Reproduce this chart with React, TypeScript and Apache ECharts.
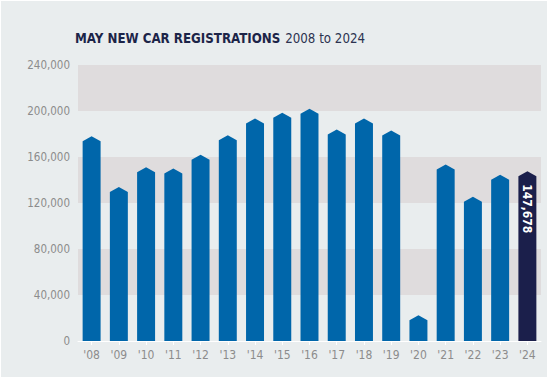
import React, { useEffect, useRef } from "react";
import * as echarts from "echarts";

const categories = ["'08", "'09", "'10", "'11", "'12", "'13", "'14", "'15", "'16", "'17", "'18", "'19", "'20", "'21", "'22", "'23", "'24"];
const registrations = [178000, 134000, 151000, 150000, 162000, 179000, 193500, 198500, 202000, 184000, 193500, 183000, 22500, 153500, 125500, 144500, 147678];
const yTicks = [0, 40000, 80000, 120000, 160000, 200000, 240000];
const titleBold = "MAY NEW CAR REGISTRATIONS";
const titleRest = "2008 to 2024";

const FONT = "'DejaVu Sans Condensed', 'DejaVu Sans', sans-serif";

export default function App() {
  const ref = useRef<HTMLDivElement>(null);
  useEffect(() => {
    if (!ref.current) return;
    const chart = echarts.init(ref.current, null, { renderer: "svg" });
    const last = registrations.length - 1;
    chart.setOption({
      animation: false,
      backgroundColor: "#ffffff",
      graphic: [
        { type: "rect", z: -10, silent: true, shape: { x: 1, y: 1, width: 546, height: 376 }, style: { fill: "#e9edee" } },
      ],
      title: {
        left: 70,
        top: 24,
        text: `{b|${titleBold}} {r|${titleRest}}`,
        textStyle: {
          rich: {
            b: { fontFamily: FONT, fontWeight: "bold", fontSize: 13.2, color: "#1c2448" },
            r: { fontFamily: FONT, fontWeight: "normal", fontSize: 13.2, color: "#2c3350" },
          },
        },
      },
      grid: { left: 78, right: 9, top: 65, bottom: 37 },
      xAxis: {
        type: "category",
        data: categories,
        axisLine: { show: true, lineStyle: { color: "#ffffff", width: 1 } },
        axisTick: { show: true, alignWithLabel: true, length: 4, lineStyle: { color: "#ffffff" } },
        axisLabel: { color: "#8c8c8c", fontFamily: FONT, fontSize: 12, margin: 8 },
      },
      yAxis: {
        type: "value",
        min: yTicks[0],
        max: yTicks[yTicks.length - 1],
        interval: 40000,
        axisLine: { show: false },
        axisTick: { show: false },
        splitLine: { show: false },
        splitArea: { show: true, areaStyle: { color: ["rgba(0,0,0,0)", "#dfdcdd"] } },
        axisLabel: {
          color: "#8c8c8c",
          fontFamily: FONT,
          fontSize: 11.5,
          margin: 8,
          formatter: (v: number) => v.toLocaleString("en-US"),
        },
      },
      series: [
        {
          type: "custom",
          data: registrations.map((v, i) => [i, v]),
          encode: { x: 0, y: 1 },
          renderItem: (params: any, api: any) => {
            const idx = api.value(0);
            const val = api.value(1);
            const top = api.coord([idx, val]);
            const base = api.coord([idx, 0]);
            const w = api.size([1, 0])[0] * 0.66;
            const tip = 5;
            const x0 = top[0] - w / 2;
            const x1 = top[0] + w / 2;
            const color = idx === last ? "#1b1f4b" : "#0066aa";
            const children: any[] = [
              {
                type: "polygon",
                shape: {
                  points: [
                    [x0, base[1]],
                    [x0, top[1] + tip],
                    [top[0], top[1]],
                    [x1, top[1] + tip],
                    [x1, base[1]],
                  ],
                },
                style: { fill: color },
              },
            ];
            if (idx === last) {
              children.push({
                type: "text",
                x: top[0],
                y: top[1] + 13,
                rotation: -Math.PI / 2,
                style: {
                  text: registrations[last].toLocaleString("en-US"),
                  fill: "#ffffff",
                  font: `bold 12px ${FONT}`,
                  align: "left",
                  verticalAlign: "middle",
                },
              });
            }
            return { type: "group", children };
          },
        },
      ],
    });
    return () => chart.dispose();
  }, []);
  return <div ref={ref} style={{ position: "fixed", left: 0, top: 0, width: 550, height: 378 }} />;
}
